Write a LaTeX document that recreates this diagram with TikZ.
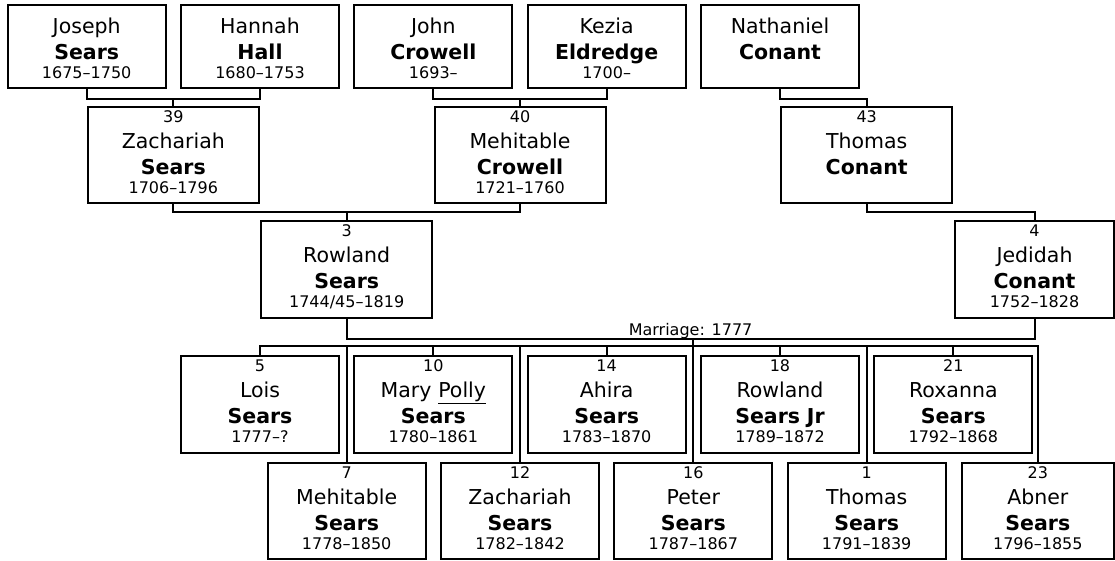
\documentclass[tikz,border=0pt]{standalone}
\usepackage{fontspec}
\setmainfont{DejaVu Sans}
\usetikzlibrary{positioning}
\newcommand{\sm}[1]{{\fontsize{16}{19}\selectfont #1}}
\tikzset{
  person/.style={draw, line width=2pt, inner sep=0pt, align=center,
    font=\fontsize{20.5}{26}\selectfont, text width=158pt,
    text height=15.5pt, text depth=81pt},
  elder/.style={person, text height=28.3pt, text depth=55.2pt},
  parent/.style={person, text width=171pt},
  link/.style={line width=2pt}
}
\begin{document}
\begin{tikzpicture}[x=1pt, y=-1pt, node distance=173.33pt, on grid]
  \useasboundingbox[fill=white] (0,0) rectangle (1115,561);

  \node[elder]  (joseph)    at (86.67,46.75)     {Joseph\\\textbf{Sears}\\[-7pt]\sm{1675–1750}};
  \node[elder]  (hannah)    [right=of joseph]    {Hannah\\\textbf{Hall}\\[-7pt]\sm{1680–1753}};
  \node[elder]  (john)      [right=of hannah]    {John\\\textbf{Crowell}\\[-7pt]\sm{1693–}};
  \node[elder]  (kezia)     [right=of john]      {Kezia\\\textbf{Eldredge}\\[-7pt]\sm{1700–}};
  \node[elder]  (nathaniel) [right=of kezia]     {Nathaniel\\\textbf{Conant}};

  \node[parent] (zach39)    at (173.33,155.25)           {\sm{39}\\Zachariah\\\textbf{Sears}\\[-7pt]\sm{1706–1796}};
  \node[parent] (mehit40)   [right=346.67pt of zach39]   {\sm{40}\\Mehitable\\\textbf{Crowell}\\[-7pt]\sm{1721–1760}};
  \node[parent] (thomas43)  [right=346.67pt of mehit40]  {\sm{43}\\Thomas\\\textbf{Conant}};

  \node[parent] (rowland3)  at (346.67,269.25)   {\sm{3}\\Rowland\\\textbf{Sears}\\[-7pt]\sm{1744/45–1819}};
  \node[parent, text width=159pt] (jedidah4) at (1034.5,269.25) {\sm{4}\\Jedidah\\\textbf{Conant}\\[-7pt]\sm{1752–1828}};

  \node[person] (lois5)     at (260,404.25)      {\sm{5}\\Lois\\\textbf{Sears}\\[-7pt]\sm{1777–?}};
  \node[person] (polly10)   [right=of lois5]     {\sm{10}\\Mary \underline{Polly}\\\textbf{Sears}\\[-7pt]\sm{1780–1861}};
  \node[person] (ahira14)   [right=of polly10]   {\sm{14}\\Ahira\\\textbf{Sears}\\[-7pt]\sm{1783–1870}};
  \node[person] (rowjr18)   [right=of ahira14]   {\sm{18}\\Rowland\\\textbf{Sears Jr}\\[-7pt]\sm{1789–1872}};
  \node[person] (roxanna21) [right=of rowjr18]   {\sm{21}\\Roxanna\\\textbf{Sears}\\[-7pt]\sm{1792–1868}};

  \node[person] (mehit7)    at (346.67,510.95)   {\sm{7}\\Mehitable\\\textbf{Sears}\\[-7pt]\sm{1778–1850}};
  \node[person] (zach12)    [right=of mehit7]    {\sm{12}\\Zachariah\\\textbf{Sears}\\[-7pt]\sm{1782–1842}};
  \node[person] (peter16)   [right=of zach12]    {\sm{16}\\Peter\\\textbf{Sears}\\[-7pt]\sm{1787–1867}};
  \node[person] (thomas1)   [right=of peter16]   {\sm{1}\\Thomas\\\textbf{Sears}\\[-7pt]\sm{1791–1839}};
  \node[person, text width=152.3pt] (abner23) at (1037.85,510.95) {\sm{23}\\Abner\\\textbf{Sears}\\[-7pt]\sm{1796–1855}};

  \draw[link] (joseph.south) -- ++(0,9.2) coordinate (bar1) -| (hannah.south);
  \draw[link] (zach39.north) -- (zach39.north |- bar1);
  \draw[link] (john.south) -- ++(0,9.2) coordinate (bar2) -| (kezia.south);
  \draw[link] (mehit40.north) -- (mehit40.north |- bar2);
  \draw[link] (nathaniel.south) -- ++(0,9.2) -| (thomas43.north);

  \draw[link] (zach39.south) -- ++(0,7.2) coordinate (bar3) -| (mehit40.south);
  \draw[link] (rowland3.north) -- (rowland3.north |- bar3);
  \draw[link] (thomas43.south) -- ++(0,7.2) -| (jedidah4.north);

  \draw[link] (rowland3.south) -- ++(0,20.8) coordinate (wed)
    -| node[pos=0.25, anchor=base, yshift=4pt, font=\fontsize{16}{19}\selectfont] (marriage) {Marriage: 1777} (jedidah4.south);
  \draw[link] (peter16.north) -- (peter16.north |- wed);

  \draw[link] (lois5.north) -- ++(0,-9.3) coordinate (kids) -| (abner23.north);
  \foreach \kid in {polly10,ahira14,rowjr18,roxanna21,mehit7,zach12,thomas1}
    \draw[link] (\kid.north) -- (\kid.north |- kids);
\end{tikzpicture}
\end{document}
